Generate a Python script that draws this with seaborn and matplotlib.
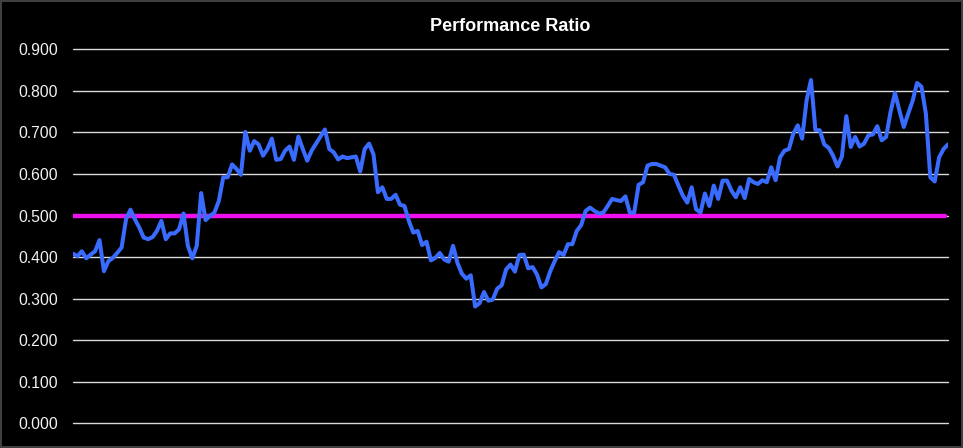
import matplotlib
matplotlib.use('Agg')
import matplotlib.pyplot as plt
import seaborn as sns
import pandas as pd

# Valores (ratio de rendimiento)
ratio = [
    0.408, 0.402, 0.414, 0.397, 0.406, 0.414, 0.441, 0.366, 0.390, 0.398,
    0.410, 0.423, 0.491, 0.514, 0.491, 0.471, 0.447, 0.443, 0.448, 0.463,
    0.487, 0.443, 0.457, 0.457, 0.467, 0.505, 0.427, 0.397, 0.427, 0.554,
    0.489, 0.499, 0.507, 0.535, 0.592, 0.592, 0.623, 0.612, 0.598, 0.701,
    0.656, 0.679, 0.671, 0.644, 0.660, 0.685, 0.634, 0.636, 0.656, 0.666,
    0.634, 0.690, 0.660, 0.632, 0.656, 0.673, 0.690, 0.707, 0.660,
    0.652, 0.635, 0.642, 0.638, 0.640, 0.642, 0.606, 0.660, 0.673, 0.647,
    0.556, 0.568, 0.540, 0.540, 0.550, 0.526, 0.523, 0.487, 0.459, 0.463,
    0.429, 0.437, 0.392, 0.398, 0.410, 0.394, 0.389, 0.427, 0.386, 0.360,
    0.348, 0.356, 0.281, 0.289, 0.316, 0.295, 0.298, 0.324, 0.332, 0.370,
    0.382, 0.365, 0.405, 0.406, 0.373, 0.376, 0.358, 0.327, 0.335, 0.366,
    0.390, 0.412, 0.405, 0.431, 0.431, 0.463, 0.477, 0.511, 0.519, 0.511,
    0.505, 0.507, 0.523, 0.540, 0.537, 0.535, 0.546, 0.507,
    0.507, 0.574, 0.580, 0.620, 0.624, 0.624, 0.620, 0.616, 0.600, 0.598,
    0.572, 0.548, 0.531, 0.568, 0.515, 0.507, 0.553, 0.523, 0.572, 0.540,
    0.584, 0.584, 0.560, 0.544, 0.568, 0.542, 0.588, 0.580, 0.576, 0.585,
    0.580, 0.616, 0.585, 0.640, 0.656, 0.660, 0.697, 0.717, 0.685, 0.777,
    0.826, 0.706, 0.705, 0.671, 0.663, 0.644, 0.618, 0.642, 0.739, 0.665,
    0.689, 0.666, 0.673, 0.693, 0.695, 0.715, 0.681, 0.689, 0.749, 0.795,
    0.753, 0.713, 0.745, 0.776, 0.819, 0.810, 0.745, 0.592, 0.582, 0.640,
    0.660, 0.671,
]
objetivo = 0.5
y_ticks = [0.0, 0.1, 0.2, 0.3, 0.4, 0.5, 0.6, 0.7, 0.8, 0.9]

df = pd.DataFrame({'punto': range(len(ratio)), 'ratio': ratio})

sns.set_theme(style='dark')
plt.rcParams['font.family'] = ['Liberation Sans', 'DejaVu Sans']

fig = plt.figure(figsize=(9.63, 4.48), dpi=100, facecolor='black')
fig.patch.set_edgecolor('#404040')
fig.patch.set_linewidth(1.5)
ax = fig.add_axes([0.0758, 0.0551, 0.9086, 0.8349])
ax.set_facecolor('black')

# Rejilla horizontal
for t in y_ticks:
    ax.axhline(t, color='#d9d9d9', linewidth=1, zorder=1, clip_on=False)

# Línea objetivo
ax.axhline(objetivo, xmin=0, xmax=0.9965, color='#ee11ee', linewidth=3.2, zorder=2)

sns.lineplot(x='punto', y='ratio', data=df, color='#3a6bff', linewidth=2.9, ax=ax, zorder=3)

ax.set_xlim(0, len(ratio) - 1)
ax.set_ylim(0, 0.9)
ax.set_yticks(y_ticks)
ax.set_yticklabels([f'{t:.3f}' for t in y_ticks], color='#f2f2f2', fontsize=11.3)
ax.set_xticks([])
ax.tick_params(axis='y', length=0, pad=11)
ax.set_xlabel('')
ax.set_ylabel('')
ax.grid(False)
for s in ax.spines.values():
    s.set_visible(False)

ax.set_title('Performance Ratio', color='white', fontsize=13, fontweight='bold', pad=13)

fig.savefig('out.png', dpi=100, facecolor=fig.get_facecolor(), edgecolor=fig.get_edgecolor())
